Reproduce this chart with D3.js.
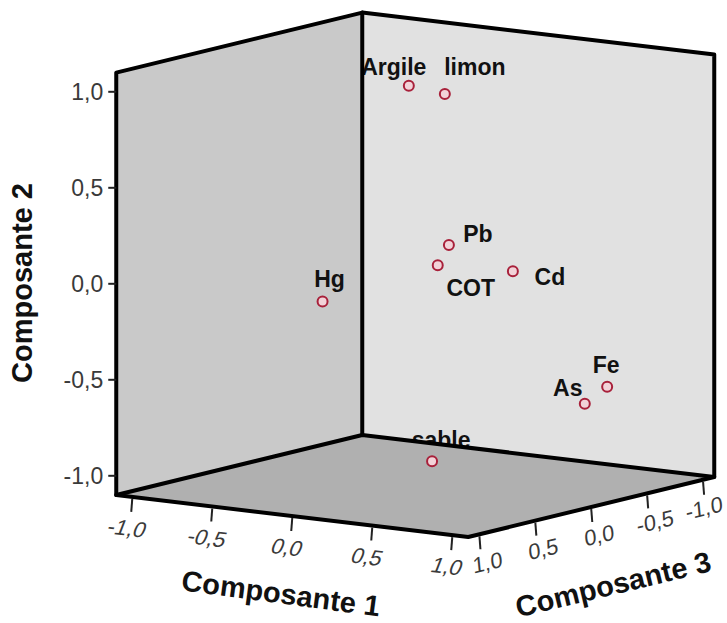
<!DOCTYPE html>
<html>
<head>
<meta charset="utf-8">
<script src="https://cdn.jsdelivr.net/npm/d3@7"></script>
<style>
  html, body { margin: 0; padding: 0; background: #fff; }
  svg { display: block; }
</style>
</head>
<body>
<svg id="chart" width="727" height="623"></svg>
<script>
// Component loadings of each soil variable (3D loading plot)
const variables = ["Argile", "limon", "Pb", "COT", "Cd", "Hg", "Fe", "As", "sable"];
const comp1 = [-0.11, 0.15, 0.42, 0.49, 0.68, -0.16, 0.85, 0.85, 0.14];
const comp2 = [0.96, 0.95, 0.24, 0.17, 0.10, -0.07, -0.57, -0.63, -0.95];
const comp3 = [-0.10, -0.05, 0.30, 0.50, 0.10, 0.60, -0.50, -0.30, 0.05];

const tickValues = [-1, -0.5, 0, 0.5, 1];
const axisTitles = ["Composante 1", "Composante 2", "Composante 3"];

// ---- projection of the box (oblique parallel view) ----
const EXT = 1.1;                       // half-size of the box in loading units
const CX = 415.25, CY = 274.8;         // screen position of the origin
const c1x = d3.scaleLinear().domain([-EXT, EXT]).range([-176, 176]);
const c1y = d3.scaleLinear().domain([-EXT, EXT]).range([-21, 21]);
const c2y = d3.scaleLinear().domain([-EXT, EXT]).range([211.2, -211.2]);
const c3x = d3.scaleLinear().domain([-EXT, EXT]).range([123, -123]);
const c3y = d3.scaleLinear().domain([-EXT, EXT]).range([-30, 30]);
const project = (a, b, c) => [CX + c1x(a) + c3x(c), CY + c1y(a) + c2y(b) + c3y(c)];

const fmt = d3.formatLocale({decimal: ",", thousands: ".", grouping: [3], currency: ["", ""], minus: "-"}).format(".1f");

const svg = d3.select("#chart");
const line = d3.line();
const E = EXT;

// corners
const P = (a, b, c) => project(a * E, b * E, c * E);
const leftWall  = [P(-1,-1, 1), P(-1, 1, 1), P(-1, 1,-1), P(-1,-1,-1)];
const backWall  = [P(-1, 1,-1), P( 1, 1,-1), P( 1,-1,-1), P(-1,-1,-1)];
const floor     = [P(-1,-1,-1), P(-1,-1, 1), P( 1,-1, 1), P( 1,-1,-1)];

svg.append("path").attr("d", line(leftWall) + "Z").attr("fill", "#c9c9c9");
svg.append("path").attr("d", line(backWall) + "Z").attr("fill", "#e1e1e1");

// variable labels (drawn before the floor so the floor hides what falls below it)
const labelNudge = {
  Argile: [-15, -11], limon: [30, -19], Pb: [29, -3], COT: [33, 31], Cd: [37, 14],
  Hg: [7, -15], Fe: [-1, -14], As: [-17, -8], sable: [9, -13]
};
const pts = variables.map((v, i) => ({name: v, p: project(comp1[i], comp2[i], comp3[i])}));

svg.append("g").selectAll("text").data(pts).join("text")
  .attr("x", d => d.p[0] + labelNudge[d.name][0])
  .attr("y", d => d.p[1] + labelNudge[d.name][1])
  .attr("text-anchor", "middle")
  .attr("font-family", "'Liberation Sans', Arial, sans-serif")
  .attr("font-weight", "bold")
  .attr("font-size", 23)
  .attr("fill", "#111")
  .text(d => d.name);

svg.append("path").attr("d", line(floor) + "Z").attr("fill", "#b0b0b0");

// box edges
const edges = [
  [P(-1,-1, 1), P(-1, 1, 1), P(-1, 1,-1), P( 1, 1,-1), P( 1,-1,-1), P( 1,-1, 1), P(-1,-1, 1)],
  [P(-1, 1,-1), P(-1,-1,-1)],
  [P(-1,-1, 1), P(-1,-1,-1), P( 1,-1,-1)]
];
svg.append("g").selectAll("path").data(edges).join("path")
  .attr("d", d => line(d))
  .attr("fill", "none")
  .attr("stroke", "#000")
  .attr("stroke-width", 4)
  .attr("stroke-linejoin", "round")
  .attr("stroke-linecap", "round");

const tickFont = "'Liberation Sans', Arial, sans-serif";

// Composante 2 axis (left front vertical edge)
const gy = svg.append("g");
tickValues.forEach(t => {
  const [x, y] = project(-E, t, E);
  gy.append("line").attr("x1", x - 8).attr("x2", x).attr("y1", y).attr("y2", y)
    .attr("stroke", "#222").attr("stroke-width", 2);
  gy.append("text").attr("x", x - 13).attr("y", y).attr("dy", "0.36em")
    .attr("text-anchor", "end").attr("font-family", tickFont).attr("font-size", 23)
    .attr("fill", "#3a3a3a").text(fmt(t));
});

// Composante 1 axis (front-left floor edge)
const gx = svg.append("g");
tickValues.forEach(t => {
  const [x, y] = project(t, -E, E);
  gx.append("line").attr("x1", x).attr("x2", x - 1).attr("y1", y + 2).attr("y2", y + 15)
    .attr("stroke", "#222").attr("stroke-width", 2);
  gx.append("text")
    .attr("transform", `translate(${x - 5},${y + 31}) rotate(7) skewX(-14)`)
    .attr("dy", "0.36em").attr("text-anchor", "middle")
    .attr("font-family", tickFont).attr("font-size", 22)
    .attr("fill", "#3a3a3a").text(fmt(t));
});

// Composante 3 axis (front-right floor edge)
const gz = svg.append("g");
tickValues.forEach(t => {
  const [x, y] = project(E, -E, t);
  const nx = t === -1 ? x + 1 : x + 8;
  gz.append("line").attr("x1", x).attr("x2", x + 1).attr("y1", y + 2).attr("y2", y + 15)
    .attr("stroke", "#222").attr("stroke-width", 2);
  gz.append("text")
    .attr("transform", `translate(${nx},${y + 28}) rotate(-13.7) skewX(-8)`)
    .attr("dy", "0.36em").attr("text-anchor", "middle")
    .attr("font-family", tickFont).attr("font-size", 22)
    .attr("fill", "#3a3a3a").text(fmt(t));
});

// axis titles
const titleAttrs = sel => sel.attr("text-anchor", "middle").attr("dy", "0.36em")
  .attr("font-family", "'Liberation Sans', Arial, sans-serif")
  .attr("font-weight", "bold").attr("font-size", 29).attr("fill", "#111");
svg.append("text").attr("transform", "translate(281,593) rotate(7.5)").call(titleAttrs).text(axisTitles[0]);
svg.append("text").attr("transform", "translate(22,283) rotate(-90)").call(titleAttrs).text(axisTitles[1]);
svg.append("text").attr("transform", "translate(613,584) rotate(-13.5)").call(titleAttrs).text(axisTitles[2]);

// points
svg.append("g").selectAll("circle").data(pts).join("circle")
  .attr("cx", d => d.p[0]).attr("cy", d => d.p[1]).attr("r", 5)
  .attr("fill", "#f2d2d8").attr("stroke", "#a8203a").attr("stroke-width", 2);
</script>
</body>
</html>
